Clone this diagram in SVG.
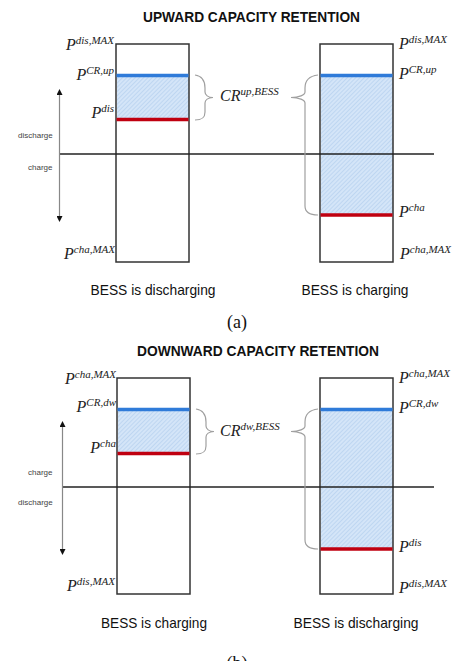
<svg xmlns="http://www.w3.org/2000/svg" width="474" height="661" viewBox="0 0 474 661">
<defs>
<pattern id="hatch" patternUnits="userSpaceOnUse" width="3" height="3" patternTransform="rotate(45)">
<rect width="3" height="3" fill="#d4e5f8"/>
<line x1="0" y1="0" x2="0" y2="3" stroke="#a9c7ea" stroke-width="1"/>
</pattern>
<marker id="arr" viewBox="0 0 10 10" refX="5" refY="5" markerWidth="6" markerHeight="6" orient="auto-start-reverse" markerUnits="userSpaceOnUse">
<path d="M0,0 L10,5 L0,10 z" fill="#111"/>
</marker>
</defs>
<style>
.box{fill:none;stroke:#333;stroke-width:1.5}
.blue{stroke:#2f7bd9;stroke-width:3.5}
.red{stroke:#c00010;stroke-width:3.5}
.axis{stroke:#888;stroke-width:1.2;fill:none}
.hline{stroke:#222;stroke-width:1.5}
.brace{fill:none;stroke:#a0a0a0;stroke-width:1.2}
.p{font-family:"Liberation Serif",serif;font-style:italic;font-size:16px;fill:#222}
.sup{font-size:11px}
.small{font-family:"Liberation Sans",sans-serif;font-size:8px;fill:#444}
.title{font-family:"Liberation Sans",sans-serif;font-weight:bold;font-size:15.5px;fill:#111}
.cap{font-family:"Liberation Sans",sans-serif;font-size:15px;fill:#111}
.sub{font-family:"Liberation Serif",serif;font-size:18px;fill:#111}
</style>
<rect width="474" height="661" fill="#fff"/>

<!-- Panel (a) -->
<text class="title" x="251.5" y="22" text-anchor="middle" textLength="217" lengthAdjust="spacingAndGlyphs">UPWARD CAPACITY RETENTION</text>

<g id="a-left-box">
<rect x="117" y="77" width="72" height="41" fill="url(#hatch)"/>
<rect class="box" x="116" y="44" width="73" height="218"/>
<line class="blue" x1="116.5" y1="75.5" x2="188.5" y2="75.5"/>
<line class="red" x1="116.5" y1="119.5" x2="188.5" y2="119.5"/>
</g>
<g id="a-right-box">
<rect x="321" y="77" width="72" height="137" fill="url(#hatch)"/>
<rect class="box" x="320" y="44" width="73" height="218"/>
<line class="blue" x1="320.5" y1="75.5" x2="392.5" y2="75.5"/>
<line class="red" x1="320.5" y1="215" x2="392.5" y2="215"/>
</g>

<g id="a-left-labels">
<text class="p" x="114" y="50" text-anchor="end">P<tspan class="sup" dy="-6">dis,MAX</tspan></text>
<text class="p" x="114" y="80" text-anchor="end">P<tspan class="sup" dy="-6">CR,up</tspan></text>
<text class="p" x="114" y="118" text-anchor="end">P<tspan class="sup" dy="-6">dis</tspan></text>
<text class="p" x="115" y="259" text-anchor="end">P<tspan class="sup" dy="-6">cha,MAX</tspan></text>
</g>
<g id="a-right-labels">
<text class="p" x="399" y="49">P<tspan class="sup" dy="-6">dis,MAX</tspan></text>
<text class="p" x="399" y="79">P<tspan class="sup" dy="-6">CR,up</tspan></text>
<text class="p" x="399" y="217">P<tspan class="sup" dy="-6">cha</tspan></text>
<text class="p" x="400" y="259">P<tspan class="sup" dy="-6">cha,MAX</tspan></text>
</g>
<g id="a-cr-label">
<text class="p" x="220" y="101">CR<tspan class="sup" dy="-6">up,BESS</tspan></text>
</g>
<g id="a-axis-labels">
<text class="small" x="18" y="138">discharge</text>
<text class="small" x="28" y="170">charge</text>
</g>
<g id="a-captions">
<text class="cap" x="153" y="295" text-anchor="middle" textLength="125" lengthAdjust="spacingAndGlyphs">BESS is discharging</text>
<text class="cap" x="355" y="295" text-anchor="middle" textLength="107" lengthAdjust="spacingAndGlyphs">BESS is charging</text>
<text class="sub" x="237" y="328" text-anchor="middle">(a)</text>
</g>

<!-- Panel (b) -->
<text class="title" x="258" y="356" text-anchor="middle" textLength="242" lengthAdjust="spacingAndGlyphs">DOWNWARD CAPACITY RETENTION</text>

<g id="b-left-box">
<rect x="118" y="411" width="72" height="41" fill="url(#hatch)"/>
<rect class="box" x="117" y="378" width="73" height="216"/>
<line class="blue" x1="117.5" y1="409.5" x2="189.5" y2="409.5"/>
<line class="red" x1="117.5" y1="453.5" x2="189.5" y2="453.5"/>
</g>
<g id="b-right-box">
<rect x="321" y="411" width="72" height="137" fill="url(#hatch)"/>
<rect class="box" x="320" y="378" width="73" height="216"/>
<line class="blue" x1="320.5" y1="409.5" x2="392.5" y2="409.5"/>
<line class="red" x1="320.5" y1="549" x2="392.5" y2="549"/>
</g>

<g id="b-left-labels">
<text class="p" x="116" y="384" text-anchor="end">P<tspan class="sup" dy="-6">cha,MAX</tspan></text>
<text class="p" x="116" y="412" text-anchor="end">P<tspan class="sup" dy="-6">CR,dw</tspan></text>
<text class="p" x="116" y="453" text-anchor="end">P<tspan class="sup" dy="-6">cha</tspan></text>
<text class="p" x="115" y="591" text-anchor="end">P<tspan class="sup" dy="-6">dis,MAX</tspan></text>
</g>
<g id="b-right-labels">
<text class="p" x="399" y="383">P<tspan class="sup" dy="-6">cha,MAX</tspan></text>
<text class="p" x="399" y="413">P<tspan class="sup" dy="-6">CR,dw</tspan></text>
<text class="p" x="399" y="552">P<tspan class="sup" dy="-6">dis</tspan></text>
<text class="p" x="399" y="593">P<tspan class="sup" dy="-6">dis,MAX</tspan></text>
</g>
<g id="b-cr-label">
<text class="p" x="220" y="436">CR<tspan class="sup" dy="-6">dw,BESS</tspan></text>
</g>
<g id="b-axis-labels">
<text class="small" x="28" y="475">charge</text>
<text class="small" x="18" y="505">discharge</text>
</g>
<g id="b-captions">
<text class="cap" x="154" y="628" text-anchor="middle" textLength="106" lengthAdjust="spacingAndGlyphs">BESS is charging</text>
<text class="cap" x="356" y="628" text-anchor="middle" textLength="125" lengthAdjust="spacingAndGlyphs">BESS is discharging</text>
<text class="sub" x="237" y="669" text-anchor="middle">(b)</text>
</g>

<g id="connectors">
<line class="hline" x1="59" y1="154" x2="434" y2="154"/>
<line class="axis" x1="59.5" y1="92" x2="59.5" y2="219" marker-start="url(#arr)" marker-end="url(#arr)"/>
<path class="brace" d="M195,75 C202,76 205,80 205,88 L205,92 C205,95 208,97.5 213,97.5 C208,97.5 205,100 205,103 L205,112 C205,118 202,120 195,120"/>
<path class="brace" d="M318,75 C309,76 305,80 305,88 L305,92 C305,95 299,97.5 291,97.5 C299,97.5 305,100 305,103 L305,206 C305,212 309,215 318,215"/>

<line class="hline" x1="62" y1="487" x2="434" y2="487"/>
<line class="axis" x1="62.5" y1="424" x2="62.5" y2="552" marker-start="url(#arr)" marker-end="url(#arr)"/>
<path class="brace" d="M196,409 C203,410 206,414 206,422 L206,426 C206,429 209,431.5 214,431.5 C209,431.5 206,434 206,437 L206,446 C206,452 203,454 196,454"/>
<path class="brace" d="M318,409 C309,410 305,414 305,422 L305,426 C305,429 299,431.5 291,431.5 C299,431.5 305,434 305,437 L305,540 C305,546 309,549 318,549"/>
</g>
</svg>
